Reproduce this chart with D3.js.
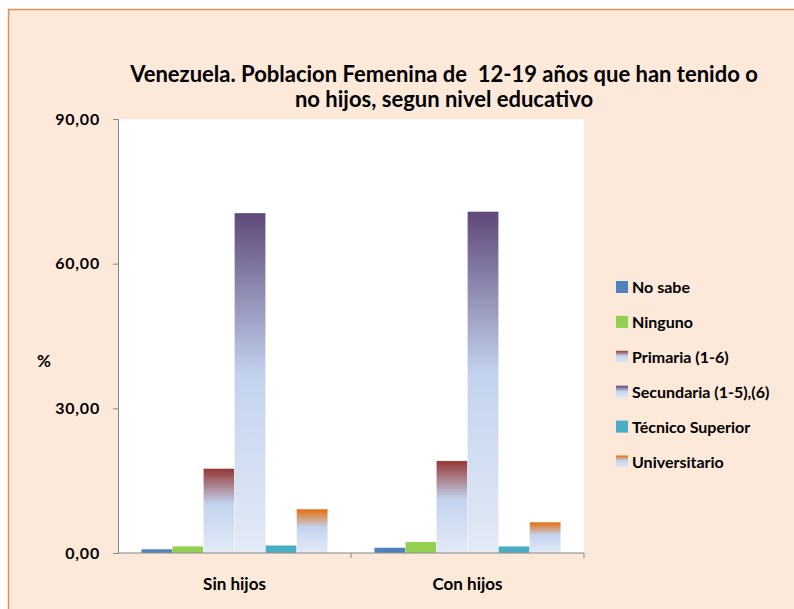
<!DOCTYPE html>
<html><head><meta charset="utf-8">
<script src="https://cdn.jsdelivr.net/npm/d3@7"></script>
<style>
html,body{margin:0;padding:0;background:#fff;}
text{font-family:Lato,"Open Sans",sans-serif;font-weight:bold;fill:#000;}
</style></head>
<body><div id="chart"></div>
<script>
const categories = ["Sin hijos", "Con hijos"];
const seriesNames = ["No sabe", "Ninguno", "Primaria (1-6)", "Secundaria (1-5),(6)", "Técnico Superior", "Universitario"];
const sinHijos = [0.8, 1.4, 17.5, 70.5, 1.6, 9.1];
const conHijos = [1.1, 2.3, 19.1, 70.8, 1.4, 6.4];
const yTicks = [0, 30, 60, 90];
const titleLines = ["Venezuela. Poblacion Femenina de  12-19 años que han tenido o", "no hijos, segun nivel educativo"];
const yLabel = "%";

const colors = [
  {solid:"#4F81BD"},
  {solid:"#92D050"},
  {top:"#953735"},
  {top:"#5F497A"},
  {solid:"#4BACC6"},
  {top:"#E46C0A"}
];

const W = 794, H = 609;
const svg = d3.select("#chart").append("svg").attr("width", W).attr("height", H);
const defs = svg.append("defs");

colors.forEach((c, i) => {
  if (c.top) {
    const g = defs.append("linearGradient").attr("id", "g" + i)
      .attr("x1", 0).attr("y1", 0).attr("x2", 0).attr("y2", 1);
    g.append("stop").attr("offset", "0%").attr("stop-color", c.top);
    g.append("stop").attr("offset", i === 3 ? "48%" : "42%").attr("stop-color", "#C3D3EE");
    g.append("stop").attr("offset", "100%").attr("stop-color", "#E3EAF6");
  }
});
const fillOf = i => colors[i].top ? `url(#g${i})` : colors[i].solid;

// background frame
svg.append("rect").attr("x", 8.5).attr("y", 9.5).attr("width", W).attr("height", H)
  .attr("fill", "#FCE9DA").attr("stroke", "#D9925A").attr("stroke-width", 1.5);

const m = {left: 118, right: 584, top: 119, bottom: 553};
svg.append("rect").attr("x", m.left).attr("y", m.top)
  .attr("width", m.right - m.left).attr("height", m.bottom - m.top).attr("fill", "#fff");

const y = d3.scaleLinear().domain([0, 90]).range([m.bottom, m.top]);
const x0 = d3.scaleBand().domain(categories).range([m.left, m.right]).paddingInner(0).paddingOuter(0);
const x1 = d3.scaleBand().domain(seriesNames.map((d, i) => i)).range([0, x0.bandwidth()]).paddingOuter(0.75).paddingInner(0);

const data = [sinHijos, conHijos];
const groups = svg.append("g").selectAll("g").data(categories).join("g")
  .attr("transform", d => `translate(${x0(d)},0)`);
groups.selectAll("rect").data((d, ci) => data[ci].map((v, i) => ({v, i})))
  .join("rect")
  .attr("x", d => x1(d.i))
  .attr("width", x1.bandwidth())
  .attr("y", d => y(d.v))
  .attr("height", d => y(0) - y(d.v))
  .attr("fill", d => fillOf(d.i))
  .attr("stroke", "rgba(255,255,255,0.5)").attr("stroke-width", 0.5);

// y axis
const yAxis = d3.axisLeft(y).tickValues(yTicks).tickSize(5).tickPadding(13)
  .tickFormat(d => d3.format(".2f")(d).replace(".", ","));
const ya = svg.append("g").attr("transform", `translate(${m.left},0)`).call(yAxis);
ya.select(".domain").attr("stroke", "#868686");
ya.selectAll(".tick line").attr("stroke", "#868686");
ya.selectAll("text").style("font-size", "16px").style("letter-spacing", "0.8px").attr("fill", "#000");

// x axis
const xa = svg.append("g").attr("transform", `translate(0,${m.bottom})`)
  .call(d3.axisBottom(x0).tickSize(0).tickPadding(25));
xa.select(".domain").attr("stroke", "#868686").attr("d", `M${m.left},0H${m.right}`);
xa.selectAll("text").style("font-size", "17px").attr("fill", "#000");
[m.left + x0.bandwidth(), m.right].forEach(px => {
  xa.append("line").attr("x1", px).attr("x2", px).attr("y1", 0).attr("y2", 5).attr("stroke", "#868686");
});

// y label
svg.append("text").attr("x", 44).attr("y", 367).attr("text-anchor", "middle")
  .style("font-size", "17px").text(yLabel);

// title
svg.append("g").selectAll("text").data(titleLines).join("text")
  .attr("x", 444).attr("y", (d, i) => 82 + i * 24.5)
  .attr("text-anchor", "middle").style("font-size", "22px").style("white-space", "pre")
  .text(d => d);

// legend
const lg = svg.append("g").attr("transform", "translate(616,0)");
const rows = lg.selectAll("g").data(seriesNames).join("g")
  .attr("transform", (d, i) => `translate(0,${287 + i * 34.9})`);
rows.append("rect").attr("x", 0).attr("y", -6).attr("width", 12).attr("height", 12)
  .attr("fill", (d, i) => fillOf(i));
rows.append("text").attr("x", 16).attr("y", 6).style("font-size", "16px").text(d => d);
</script></body></html>
